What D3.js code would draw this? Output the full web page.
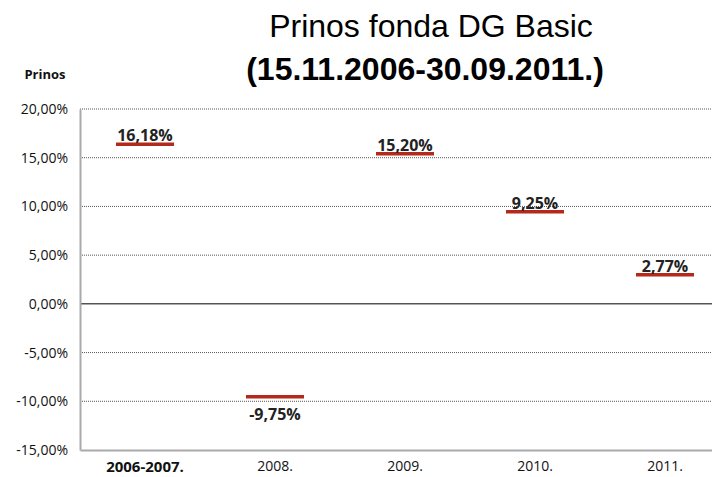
<!DOCTYPE html>
<html>
<head>
<meta charset="utf-8">
<script src="https://cdn.jsdelivr.net/npm/d3@7"></script>
<style>
  body { margin: 0; background: #fff; }
  svg { display: block; }
</style>
</head>
<body>
<div id="chart"></div>
<script>
// data
var categories = ["2006-2007.", "2008.", "2009.", "2010.", "2011."];
var returns = [16.18, -9.75, 15.20, 9.25, 2.77];
var returnLabels = ["16,18%", "-9,75%", "15,20%", "9,25%", "2,77%"];
var yTicks = [20, 15, 10, 5, 0, -5, -10, -15];

var width = 712, height = 477;

var svg = d3.select("#chart")
  .append("svg")
    .attr("width", width)
    .attr("height", height);

var x = d3.scaleBand()
  .domain(categories)
  .range([80, 730]);

var y = d3.scaleLinear()
  .domain([-15, 20])
  .range([450, 109]);

var fmt = function(d) { return d.toFixed(2).replace(".", ",") + "%"; };

// dotted grid lines
svg.append("g")
  .selectAll("line")
  .data(yTicks.filter(function(d) { return d !== 0 && d !== -15; }))
  .enter()
  .append("line")
    .attr("x1", 80)
    .attr("x2", width)
    .attr("y1", function(d) { return y(d); })
    .attr("y2", function(d) { return y(d); })
    .attr("stroke", "#555")
    .attr("stroke-width", 1)
    .attr("stroke-dasharray", "1,1");

// zero line
svg.append("line")
  .attr("x1", 80).attr("x2", width)
  .attr("y1", y(0)).attr("y2", y(0))
  .attr("stroke", "#555")
  .attr("stroke-width", 1.5);

// y axis
var yAxis = svg.append("g")
  .attr("transform", "translate(80,0)")
  .call(d3.axisLeft(y).tickValues(yTicks).tickFormat(fmt).tickSize(0).tickPadding(12));
yAxis.select(".domain").attr("stroke", "#aaa").attr("stroke-width", 2);
yAxis.selectAll("text")
  .style("font-family", "'Open Sans', sans-serif")
  .style("font-size", "14px")
  .attr("fill", "#111");

// x axis at the bottom
var xAxis = svg.append("g")
  .attr("transform", "translate(0," + y(-15) + ")")
  .call(d3.axisBottom(x).tickSize(0).tickPadding(11));
xAxis.select(".domain").attr("stroke", "#aaa").attr("stroke-width", 2);
xAxis.selectAll("text")
  .style("font-family", "'Open Sans', sans-serif")
  .style("font-size", function(d, i) { return i === 0 ? "15px" : "14px"; })
  .style("font-weight", function(d, i) { return i === 0 ? "bold" : "normal"; })
  .attr("fill", "#111");

// the red markers
svg.append("g")
  .selectAll("line")
  .data(returns)
  .enter()
  .append("line")
    .attr("x1", function(d, i) { return x(categories[i]) + x.bandwidth() / 2 - 29; })
    .attr("x2", function(d, i) { return x(categories[i]) + x.bandwidth() / 2 + 29; })
    .attr("y1", function(d) { return y(d) - 2; })
    .attr("y2", function(d) { return y(d) - 2; })
    .attr("stroke", "#b3291c")
    .attr("stroke-width", 3.5);

// value labels
svg.append("g")
  .selectAll("text")
  .data(returns)
  .enter()
  .append("text")
    .attr("x", function(d, i) { return x(categories[i]) + x.bandwidth() / 2; })
    .attr("y", function(d) { return d < 0 ? y(d) + 21 : y(d) - 5; })
    .attr("text-anchor", "middle")
    .style("font-family", "'Open Sans', sans-serif")
    .style("font-size", "16px")
    .style("font-weight", "bold")
    .attr("fill", "#222")
    .text(function(d, i) { return returnLabels[i]; });

// titles
svg.append("text")
  .attr("x", 431).attr("y", 37)
  .attr("text-anchor", "middle")
  .style("font-family", "'Liberation Sans', Arial, sans-serif")
  .style("font-size", "32px")
  .attr("fill", "#000")
  .text("Prinos fonda DG Basic");

svg.append("text")
  .attr("x", 425).attr("y", 80)
  .attr("text-anchor", "middle")
  .style("font-family", "'Liberation Sans', Arial, sans-serif")
  .style("font-size", "32px")
  .style("font-weight", "bold")
  .attr("fill", "#000")
  .text("(15.11.2006-30.09.2011.)");

svg.append("text")
  .attr("x", 45).attr("y", 79)
  .attr("text-anchor", "middle")
  .style("font-family", "'Open Sans', sans-serif")
  .style("font-size", "13px")
  .style("font-weight", "bold")
  .attr("fill", "#111")
  .text("Prinos");
</script>
</body>
</html>
